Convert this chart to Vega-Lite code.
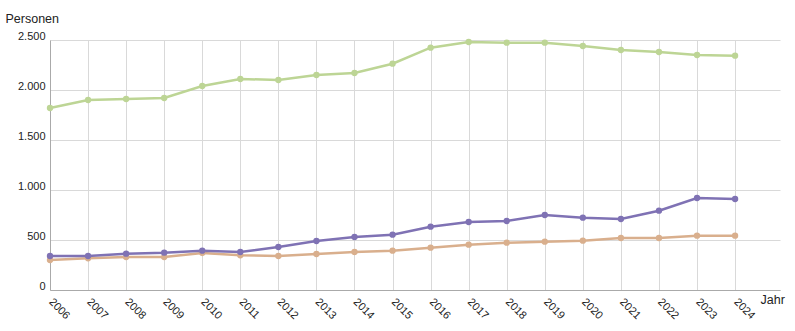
{
  "$schema": "https://vega.github.io/schema/vega-lite/v6.json",
  "width": 730,
  "height": 250,
  "autosize": "none",
  "padding": {"left": 50, "top": 40, "right": 15, "bottom": 41},
  "background": "white",
  "config": {
    "view": {"stroke": null},
    "font": "Liberation Sans",
    "locale": {"number": {"decimal": ",", "thousands": ".", "grouping": [3], "currency": ["", " €"]}}
  },
  "data": {"values": [
    {"Jahr": 2006, "Reihe": "A", "Personen": 1820},
    {"Jahr": 2007, "Reihe": "A", "Personen": 1900},
    {"Jahr": 2008, "Reihe": "A", "Personen": 1910},
    {"Jahr": 2009, "Reihe": "A", "Personen": 1920},
    {"Jahr": 2010, "Reihe": "A", "Personen": 2040},
    {"Jahr": 2011, "Reihe": "A", "Personen": 2110},
    {"Jahr": 2012, "Reihe": "A", "Personen": 2100},
    {"Jahr": 2013, "Reihe": "A", "Personen": 2150},
    {"Jahr": 2014, "Reihe": "A", "Personen": 2170},
    {"Jahr": 2015, "Reihe": "A", "Personen": 2263},
    {"Jahr": 2016, "Reihe": "A", "Personen": 2423},
    {"Jahr": 2017, "Reihe": "A", "Personen": 2480},
    {"Jahr": 2018, "Reihe": "A", "Personen": 2473},
    {"Jahr": 2019, "Reihe": "A", "Personen": 2473},
    {"Jahr": 2020, "Reihe": "A", "Personen": 2440},
    {"Jahr": 2021, "Reihe": "A", "Personen": 2400},
    {"Jahr": 2022, "Reihe": "A", "Personen": 2380},
    {"Jahr": 2023, "Reihe": "A", "Personen": 2350},
    {"Jahr": 2024, "Reihe": "A", "Personen": 2343},
    {"Jahr": 2006, "Reihe": "B", "Personen": 300},
    {"Jahr": 2007, "Reihe": "B", "Personen": 317},
    {"Jahr": 2008, "Reihe": "B", "Personen": 330},
    {"Jahr": 2009, "Reihe": "B", "Personen": 330},
    {"Jahr": 2010, "Reihe": "B", "Personen": 370},
    {"Jahr": 2011, "Reihe": "B", "Personen": 347},
    {"Jahr": 2012, "Reihe": "B", "Personen": 340},
    {"Jahr": 2013, "Reihe": "B", "Personen": 360},
    {"Jahr": 2014, "Reihe": "B", "Personen": 380},
    {"Jahr": 2015, "Reihe": "B", "Personen": 393},
    {"Jahr": 2016, "Reihe": "B", "Personen": 423},
    {"Jahr": 2017, "Reihe": "B", "Personen": 453},
    {"Jahr": 2018, "Reihe": "B", "Personen": 473},
    {"Jahr": 2019, "Reihe": "B", "Personen": 483},
    {"Jahr": 2020, "Reihe": "B", "Personen": 493},
    {"Jahr": 2021, "Reihe": "B", "Personen": 520},
    {"Jahr": 2022, "Reihe": "B", "Personen": 520},
    {"Jahr": 2023, "Reihe": "B", "Personen": 543},
    {"Jahr": 2024, "Reihe": "B", "Personen": 543},
    {"Jahr": 2006, "Reihe": "C", "Personen": 340},
    {"Jahr": 2007, "Reihe": "C", "Personen": 340},
    {"Jahr": 2008, "Reihe": "C", "Personen": 363},
    {"Jahr": 2009, "Reihe": "C", "Personen": 373},
    {"Jahr": 2010, "Reihe": "C", "Personen": 393},
    {"Jahr": 2011, "Reihe": "C", "Personen": 380},
    {"Jahr": 2012, "Reihe": "C", "Personen": 430},
    {"Jahr": 2013, "Reihe": "C", "Personen": 490},
    {"Jahr": 2014, "Reihe": "C", "Personen": 530},
    {"Jahr": 2015, "Reihe": "C", "Personen": 553},
    {"Jahr": 2016, "Reihe": "C", "Personen": 633},
    {"Jahr": 2017, "Reihe": "C", "Personen": 680},
    {"Jahr": 2018, "Reihe": "C", "Personen": 690},
    {"Jahr": 2019, "Reihe": "C", "Personen": 750},
    {"Jahr": 2020, "Reihe": "C", "Personen": 723},
    {"Jahr": 2021, "Reihe": "C", "Personen": 710},
    {"Jahr": 2022, "Reihe": "C", "Personen": 793},
    {"Jahr": 2023, "Reihe": "C", "Personen": 920},
    {"Jahr": 2024, "Reihe": "C", "Personen": 910}
  ]},
  "mark": {"type": "line", "strokeWidth": 2.5, "point": {"size": 40, "filled": true, "opacity": 1}},
  "encoding": {
    "x": {
      "field": "Jahr", "type": "quantitative",
      "scale": {"domain": [2006, 2025.18], "nice": false, "zero": false},
      "axis": {
        "values": [2006, 2007, 2008, 2009, 2010, 2011, 2012, 2013, 2014, 2015, 2016, 2017, 2018, 2019, 2020, 2021, 2022, 2023, 2024],
        "format": "d", "labelAngle": 45, "labelAlign": "left", "labelBaseline": "middle",
        "labelPadding": 10, "labelFontSize": 11, "labelColor": "#222",
        "ticks": false, "domainColor": "#aaaaaa", "gridColor": "#d9d9d9",
        "title": "Jahr", "titleX": 710, "titleY": 13, "titleAlign": "left", "titleBaseline": "alphabetic",
        "titleFontSize": 12.5, "titleFontWeight": "normal", "titleColor": "#222", "labelFlush": false, "labelOverlap": false
      }
    },
    "y": {
      "field": "Personen", "type": "quantitative",
      "scale": {"domain": [0, 2500], "nice": false},
      "axis": {
        "values": [0, 500, 1000, 1500, 2000, 2500], "format": ",d",
        "ticks": false, "labelPadding": 5, "labelFontSize": 11, "labelColor": "#222", "labelBaseline": "alphabetic", "labelOffset": -1,
        "domainColor": "#aaaaaa", "gridColor": "#d9d9d9",
        "title": "Personen", "titleAngle": 0, "titleX": -45, "titleY": -18, "titleAlign": "left", "titleBaseline": "alphabetic",
        "titleFontSize": 12.5, "titleFontWeight": "normal", "titleColor": "#222"
      }
    },
    "color": {
      "field": "Reihe", "type": "nominal",
      "scale": {"domain": ["A", "B", "C"], "range": ["#bdd595", "#d9af8d", "#7f72b4"]},
      "legend": null
    },
    "order": {"field": "Jahr"}
  }
}
